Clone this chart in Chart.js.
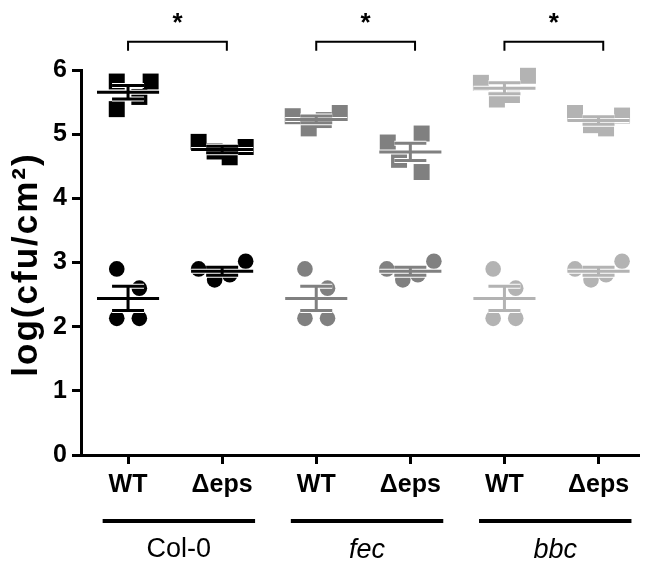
<!DOCTYPE html>
<html>
<head>
    <title>log(cfu/cm²) by genotype</title>
    <script src="https://cdn.jsdelivr.net/npm/chart.js@4.4.1/dist/chart.umd.min.js"></script>
    <style>
        body { margin: 0; background: #fff; }
        canvas { display: block; }
    </style>
</head>
<body>
    <canvas id="cfuChart" width="651" height="569"></canvas>

    <script>
        // Categories on the x axis and the plant line each pair belongs to
        const categories = ['WT', 'Δeps', 'WT', 'Δeps', 'WT', 'Δeps'];
        const groups = ['Col-0', 'fec', 'bbc'];
        const yTitle = 'log(cfu/cm²)';

        // Upper cluster (squares), four replicates per category
        const squareValues = [
            [5.82, 5.82, 5.58, 5.39],
            [4.88, 4.73, 4.64, 4.80],
            [5.28, 5.09, 5.22, 5.33],
            [4.87, 5.01, 4.60, 4.41],
            [5.80, 5.54, 5.61, 5.91],
            [5.33, 5.14, 5.09, 5.29]
        ];
        const squareJitter = [
            [-0.12, 0.24, 0.12, -0.12],
            [-0.25, -0.08, 0.08, 0.25],
            [-0.25, -0.08, 0.08, 0.25],
            [-0.24, 0.12, -0.12, 0.12],
            [-0.25, -0.08, 0.08, 0.25],
            [-0.25, -0.08, 0.08, 0.25]
        ];

        // Lower cluster (circles)
        const circleValues = [
            [2.90, 2.60, 2.13, 2.13],
            [2.90, 2.73, 2.81, 3.02],
            [2.90, 2.60, 2.13, 2.13],
            [2.90, 2.73, 2.81, 3.02],
            [2.90, 2.60, 2.13, 2.13],
            [2.90, 2.73, 2.81, 3.02]
        ];
        const circleJitter = [
            [-0.12, 0.12, -0.12, 0.12],
            [-0.25, -0.08, 0.08, 0.25],
            [-0.12, 0.12, -0.12, 0.12],
            [-0.25, -0.08, 0.08, 0.25],
            [-0.12, 0.12, -0.12, 0.12],
            [-0.25, -0.08, 0.08, 0.25]
        ];

        // Significance brackets between WT and Δeps of each line
        const sigPairs = [[0, 1], [2, 3], [4, 5]];
        const sigLabels = ['*', '*', '*'];

        const groupColors = ['#000000', '#808080', '#b3b3b3'];
        const groupItalic = [false, true, true];
        const FONT = "'Liberation Sans', Arial, sans-serif";

        function meanSem(vals) {
            const m = vals.reduce((s, v) => s + v, 0) / vals.length;
            const sd = Math.sqrt(vals.reduce((s, v) => s + (v - m) ** 2, 0) / (vals.length - 1));
            return { m: m, sem: sd / Math.sqrt(vals.length) };
        }

        // mean line + SEM whiskers as line segments split by gaps
        function errorSegments(c, vals) {
            const { m, sem } = meanSem(vals);
            const gap = { x: c, y: null };
            return [
                { x: c - 0.33, y: m }, { x: c + 0.33, y: m }, gap,
                { x: c, y: m - sem }, { x: c, y: m + sem }, gap,
                { x: c - 0.17, y: m + sem }, { x: c + 0.17, y: m + sem }, gap,
                { x: c - 0.17, y: m - sem }, { x: c + 0.17, y: m - sem }
            ];
        }

        const datasets = [];
        categories.forEach((cat, c) => {
            const color = groupColors[Math.floor(c / 2)];
            [[squareValues, squareJitter, 'rect', 11.3], [circleValues, circleJitter, 'circle', 7.8]].forEach(([vals, jit, style, r]) => {
                datasets.push({
                    type: 'scatter',
                    data: vals[c].map((v, k) => ({ x: c + jit[c][k], y: v })),
                    pointStyle: style,
                    pointRadius: r,
                    pointBackgroundColor: color,
                    pointBorderWidth: 0,
                    clip: false,
                    order: 3
                });
                const seg = errorSegments(c, vals[c]);
                datasets.push({
                    type: 'scatter', showLine: true, data: seg,
                    borderColor: '#ffffff', borderWidth: 5, pointRadius: 0,
                    spanGaps: false, clip: false, order: 2
                });
                datasets.push({
                    type: 'scatter', showLine: true, data: seg,
                    borderColor: color, borderWidth: 3, pointRadius: 0,
                    spanGaps: false, clip: false, order: 1
                });
            });
        });

        // brackets above the plot
        const bracketTop = 6.44, bracketLeg = 6.30;
        sigPairs.forEach(([a, b]) => {
            datasets.push({
                type: 'scatter', showLine: true,
                data: [
                    { x: a, y: bracketLeg }, { x: a, y: bracketTop },
                    { x: b + 0.05, y: bracketTop }, { x: b + 0.05, y: bracketLeg }
                ],
                borderColor: '#000000', borderWidth: 2, pointRadius: 0,
                clip: false, order: 0
            });
        });

        // y title, asterisks, group underlines and group names
        const annotations = {
            id: 'annotations',
            afterDraw(chart) {
                const { ctx, scales: { x, y }, chartArea } = chart;
                ctx.save();
                ctx.fillStyle = '#000';
                ctx.textAlign = 'center';
                ctx.textBaseline = 'middle';

                ctx.save();
                ctx.translate(27, (chartArea.top + chartArea.bottom) / 2 + 2);
                ctx.rotate(-Math.PI / 2);
                ctx.font = `bold 35px ${FONT}`;
                ctx.letterSpacing = '2px';
                ctx.fillText(yTitle, 0, 0);
                ctx.restore();

                ctx.font = `bold 26px ${FONT}`;
                sigPairs.forEach(([a, b], i) => {
                    const px = x.getPixelForValue((a + b + 0.05) / 2);
                    ctx.fillText(sigLabels[i], px, y.getPixelForValue(6.72));
                });

                ctx.strokeStyle = '#000';
                ctx.lineWidth = 4;
                groups.forEach((g, i) => {
                    const x0 = x.getPixelForValue(2 * i - 0.27);
                    const x1 = x.getPixelForValue(2 * i + 1.35);
                    const ly = chartArea.bottom + 66;
                    ctx.beginPath();
                    ctx.moveTo(x0, ly);
                    ctx.lineTo(x1, ly);
                    ctx.stroke();
                    ctx.font = `${groupItalic[i] ? 'italic ' : ''}27px ${FONT}`;
                    ctx.fillText(g, (x0 + x1) / 2, chartArea.bottom + 95);
                });
                ctx.restore();
            }
        };

        const chart = new Chart(document.getElementById('cfuChart'), {
            type: 'scatter',
            data: { datasets: datasets },
            options: {
                responsive: false,
                animation: false,
                layout: { padding: { top: 70, right: 0, bottom: 0, left: 0 } },
                plugins: { legend: { display: false }, tooltip: { enabled: false } },
                scales: {
                    x: {
                        type: 'linear',
                        min: -0.5,
                        max: -0.5 + 570 / 96,
                        afterBuildTicks: s => { s.ticks = categories.map((c, i) => ({ value: i })); },
                        afterFit: s => { s.height = 114; },
                        grid: { drawOnChartArea: false, tickLength: 9, tickWidth: 3, tickColor: '#000' },
                        border: { display: true, color: '#000', width: 3 },
                        ticks: {
                            callback: v => categories[v],
                            autoSkip: false,
                            maxRotation: 0,
                            padding: 6,
                            color: '#000',
                            font: { family: FONT, size: 25, weight: 'bold' }
                        }
                    },
                    y: {
                        min: 0,
                        max: 6,
                        afterFit: s => { s.width = 81; },
                        grid: { drawOnChartArea: false, tickLength: 9, tickWidth: 3, tickColor: '#000' },
                        border: { display: true, color: '#000', width: 3 },
                        ticks: {
                            stepSize: 1,
                            padding: 5,
                            color: '#000',
                            font: { family: FONT, size: 25, weight: 'bold' }
                        }
                    }
                }
            },
            plugins: [annotations]
        });
    </script>
</body>
</html>
